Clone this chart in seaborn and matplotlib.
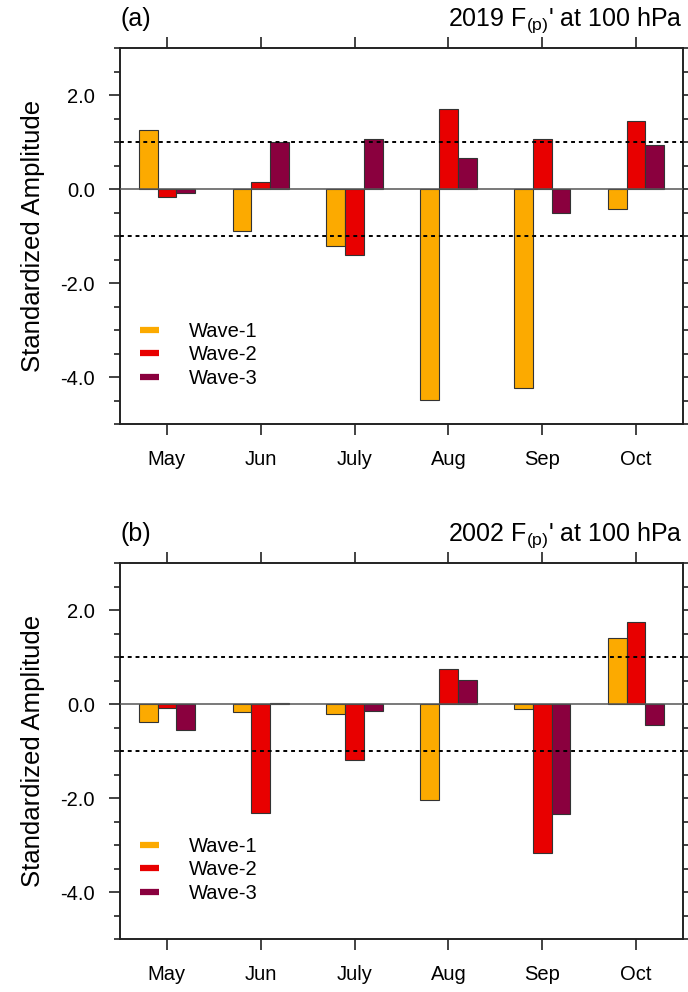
import pandas as pd
import matplotlib
matplotlib.use("Agg")
import matplotlib.pyplot as plt
from matplotlib.lines import Line2D
from matplotlib.ticker import MultipleLocator
import seaborn as sns

# values
months = ["May", "Jun", "July", "Aug", "Sep", "Oct"]
waves = ["Wave-1", "Wave-2", "Wave-3"]
colors = ["#FCAA00", "#E80000", "#8A003E"]

wave1_2019 = [1.25, -0.89, -1.21, -4.48, -4.23, -0.43]
wave2_2019 = [-0.18, 0.14, -1.40, 1.70, 1.07, 1.45]
wave3_2019 = [-0.09, 0.99, 1.06, 0.67, -0.50, 0.93]

wave1_2002 = [-0.38, -0.16, -0.21, -2.04, -0.11, 1.41]
wave2_2002 = [-0.08, -2.31, -1.20, 0.75, -3.18, 1.74]
wave3_2002 = [-0.55, 0.03, -0.15, 0.52, -2.35, -0.45]

panels = [
    ("(a)", "2019 F$_{(p)}$' at 100 hPa", [wave1_2019, wave2_2019, wave3_2019]),
    ("(b)", "2002 F$_{(p)}$' at 100 hPa", [wave1_2002, wave2_2002, wave3_2002]),
]

sns.set_style("white")
plt.rcParams["font.family"] = ["Liberation Sans", "DejaVu Sans"]
plt.rcParams["mathtext.default"] = "regular"
plt.rcParams["text.color"] = "black"
plt.rcParams["axes.labelcolor"] = "black"
plt.rcParams["xtick.color"] = "black"
plt.rcParams["ytick.color"] = "black"

fig = plt.figure(figsize=(6.88, 9.92), dpi=100)
W, H = 688, 992
boxes = [(120, 48, 683, 424), (120, 563, 683, 939)]

for (tag, title, series), (x0, y0, x1, y1) in zip(panels, boxes):
    ax = fig.add_axes([x0 / W, 1 - y1 / H, (x1 - x0) / W, (y1 - y0) / H])
    df = pd.DataFrame({
        "month": months * 3,
        "wave": [w for w in waves for _ in months],
        "value": series[0] + series[1] + series[2],
    })
    sns.barplot(data=df, x="month", y="value", hue="wave", order=months,
                hue_order=waves, palette=colors, width=0.6, edgecolor="#333333",
                linewidth=0.8, saturation=1, legend=False, ax=ax)

    ax.axhline(0, color="#555555", lw=1.1, zorder=3)
    for yv in (1, -1):
        ax.axhline(yv, color="black", lw=1.4, ls=(0, (2, 2)), zorder=3)

    ax.set_xlim(-0.5, 5.5)
    ax.set_ylim(-5, 3)
    ax.yaxis.set_major_locator(MultipleLocator(2))
    ax.yaxis.set_minor_locator(MultipleLocator(0.5))
    ax.set_yticks([-4, -2, 0, 2])
    ax.set_yticklabels(["-4.0", "-2.0", "0.0", "2.0"])
    ax.set_xlabel("")
    ax.set_ylabel("Standardized Amplitude", fontsize=18.5, labelpad=11)

    ax.tick_params(which="both", direction="out", top=True, right=True,
                   bottom=True, left=True, color="#222222", width=1.2)
    ax.tick_params(which="major", length=8, pad=10, labelsize=14.5)
    ax.tick_params(axis="x", which="major", pad=11)
    ax.tick_params(which="minor", length=4)
    ax.tick_params(axis="x", which="minor", bottom=False, top=False)
    for s in ax.spines.values():
        s.set_visible(True)
        s.set_color("#222222")
        s.set_linewidth(1.4)

    ax.set_title(tag, loc="left", fontsize=18, pad=16)
    ax.set_title(title, loc="right", fontsize=18, pad=16)

    handles = [Line2D([], [], color=c, lw=4.5, solid_capstyle="butt") for c in colors]
    ax.legend(handles, waves, loc="upper left", bbox_to_anchor=(0.035, 0.272),
              frameon=False, fontsize=14.5, handlelength=0.95, handletextpad=1.5,
              labelspacing=0.22, borderaxespad=0, borderpad=0)

fig.savefig("out.png", dpi=100)
